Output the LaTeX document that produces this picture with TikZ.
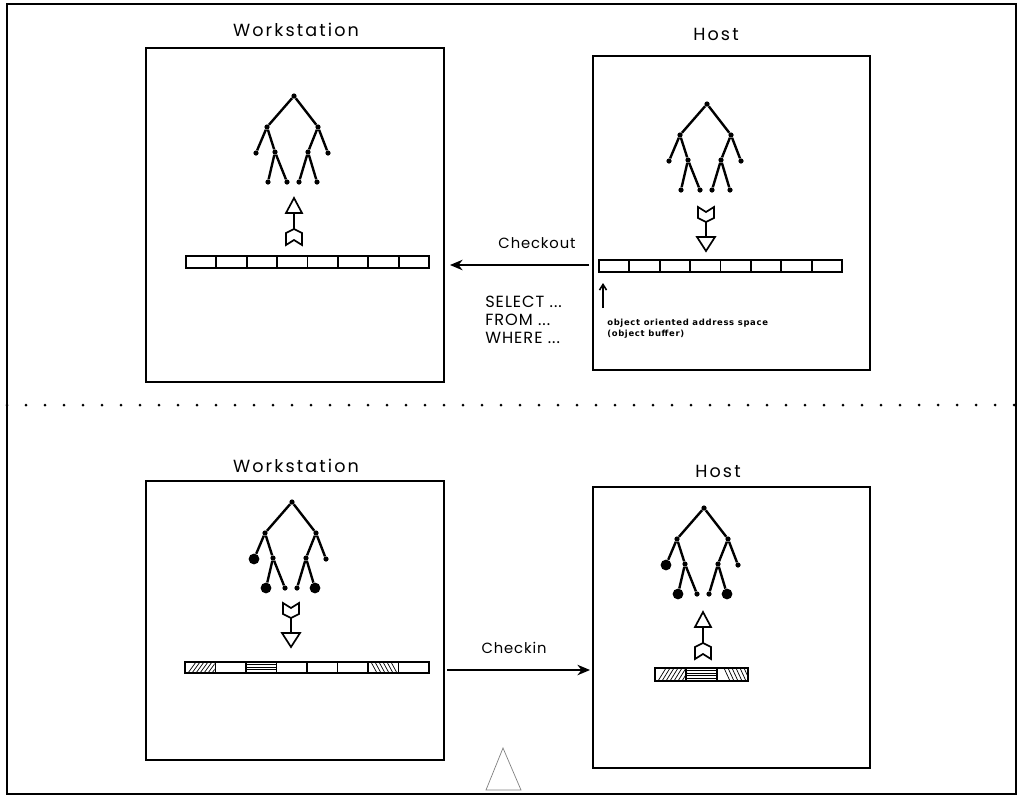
\documentclass[tikz,border=0pt]{standalone}
\usepackage{fontspec}
\setmainfont{Poppins}
\newfontfamily\tfont[LetterSpace=12]{Poppins}
\newfontfamily\lfont[LetterSpace=6]{Poppins}
\newfontfamily\sfont[LetterSpace=8]{DejaVu Sans}
\usetikzlibrary{arrows.meta}
\tikzset{
  frame/.style={draw, line width=1.2pt},
  panel/.style={draw, line width=1.3pt},
  edge/.style={line width=1.7pt},
  sdot/.style={circle, fill, inner sep=0pt, minimum size=0.13cm},
  bdot/.style={circle, fill, inner sep=0pt, minimum size=0.27cm},
  title/.style={font=\tfont\fontsize{12.5}{14}\selectfont},
  lab/.style={font=\lfont\fontsize{10.5}{12}\selectfont},
  sql/.style={font=\lfont\fontsize{11.5}{13}\selectfont, align=left, anchor=west, inner sep=0pt},
  tiny/.style={font=\sfont\bfseries\fontsize{6}{7}\selectfont, align=left, anchor=west, inner sep=0pt},
  buf/.style={line width=1.3pt},
  hatch/.style={line width=0.5pt},
  fletch/.style={line width=1.2pt, fill=white},
  bigarrow/.style={line width=0.9pt, -{Stealth[length=9pt, width=7.5pt]}},
}
\newcommand\drawtree[5]{% prefix, x, y, small style, big style
  \begin{scope}[shift={(#2,#3)}, name prefix=#1-]
    \node[#4] (r) at (0,0) {};
    \node[#4] (l) at (-27,31) {};
    \node[#4] (rt) at (24,31) {};
    \node[#5] (ll) at (-38,57) {};
    \node[#4] (li) at (-19,56) {};
    \node[#4] (ri) at (14,56) {};
    \node[#4] (rr) at (34,57) {};
    \node[#5] (a) at (-26,86) {};
    \node[#4] (b) at (-7,86) {};
    \node[#4] (c) at (5,86) {};
    \node[#5] (d) at (23,86) {};
    \draw[edge] (r) -- (l); \draw[edge] (r) -- (rt);
    \draw[edge] (l) -- (ll); \draw[edge] (l) -- (li);
    \draw[edge] (rt) -- (ri); \draw[edge] (rt) -- (rr);
    \draw[edge] (li) -- (a); \draw[edge] (li) -- (b);
    \draw[edge] (ri) -- (c); \draw[edge] (ri) -- (d);
  \end{scope}}
% upward fletched arrow: #1 cx, #2 tip y
\newcommand\fletchup[2]{%
  \draw[line width=1.2pt] (#1,#2+15) -- (#1,#2+31);
  \draw[fletch] (#1,#2) -- (#1+8,#2+15) -- (#1-8,#2+15) -- cycle;
  \draw[fletch] (#1,#2+31) -- (#1+8,#2+35) -- (#1+8,#2+47) -- (#1,#2+42) -- (#1-8,#2+47) -- (#1-8,#2+35) -- cycle;}
% downward fletched arrow: #1 cx, #2 tail top y
\newcommand\fletchdown[2]{%
  \draw[line width=1.2pt] (#1,#2+15) -- (#1,#2+30);
  \draw[fletch] (#1-8,#2) -- (#1,#2+5) -- (#1+8,#2) -- (#1+8,#2+11) -- (#1,#2+15) -- (#1-8,#2+11) -- cycle;
  \draw[fletch] (#1-9,#2+30) -- (#1+9,#2+30) -- (#1,#2+44) -- cycle;}
% buffer of n cells: #1 left, #2 top, #3 right, #4 bottom, #5 cells
\newcommand\buffer[5]{%
  \draw[buf] (#1,#2) rectangle (#3,#4);
  \foreach \i in {1,...,\numexpr#5-1\relax}{
    \draw[buf] ({#1+(#3-#1)*\i/#5},#2) -- ({#1+(#3-#1)*\i/#5},#4);}}
\begin{document}
\begin{tikzpicture}[x=0.025cm, y=-0.025cm]
\useasboundingbox (0,0) rectangle (1020,798);
\fill[white] (0,0) rectangle (1020,798);
% outer frame
\draw[frame] (7,4) rectangle (1016,794);
% dotted separator
\foreach \k in {0,...,53} { \fill ({7+19*\k},405) circle (1.5); }

% ---------- top half ----------
\node[title] (tw) at (296,30) {Workstation};
\node[title] (th) at (716,34) {Host};
\draw[panel] (146,48) rectangle (444,382);
\draw[panel] (593,56) rectangle (870,370);
\drawtree{tl}{294}{96}{sdot}{sdot}
\drawtree{tr}{707}{104}{sdot}{sdot}
\fletchup{294}{198}
\fletchdown{706}{207}
\buffer{186}{256}{429}{268}{8}
\buffer{599}{260}{842}{272}{8}
\coordinate (co-s) at (589,265);
\coordinate (co-e) at (450,265);
\draw[bigarrow] (co-s) -- (co-e);
\node[lab] (colab) at (537,243) {Checkout};
\node[sql] (sel) at (485,302) {SELECT ...};
\node[sql] (frm) at (485,320) {FROM ...};
\node[sql] (whr) at (485,338) {WHERE ...};
\coordinate (ua-s) at (603,308);
\coordinate (ua-e) at (603,283);
\draw[line width=1.1pt, -{Straight Barb[length=4pt, width=5pt]}] (ua-s) -- (ua-e);
\node[tiny] (oo1) at (607,323) {object oriented address space};
\node[tiny] (oo2) at (607,334) {(object buffer)};

% ---------- bottom half ----------
\node[title] (bw) at (296,466) {Workstation};
\node[title] (bh) at (718,471) {Host};
\draw[panel] (146,481) rectangle (444,760);
\draw[panel] (593,487) rectangle (870,768);
\drawtree{bl}{292}{502}{sdot}{bdot}
\drawtree{br}{704}{508}{sdot}{bdot}
\fletchdown{291}{603}
\fletchup{703}{612}
% left buffer with hatching
\begin{scope}
  \clip (185,662) rectangle (214.5,673);
  \foreach \k in {0,...,7} { \draw[hatch] ({188+4*\k},673) -- ({196+4*\k},662); }
\end{scope}
\foreach \yy in {664.5,667,669.5,672} { \draw[hatch] (246,\yy) -- (277,\yy); }
\begin{scope}
  \clip (368,662) rectangle (397,673);
  \foreach \k in {0,...,5} { \draw[hatch] ({371+4*\k},662) -- ({377+4*\k},673); }
\end{scope}
\buffer{185}{662}{429}{673}{8}
% right buffer
\begin{scope}
  \clip (655,668) rectangle (687,681);
  \foreach \k in {0,...,6} { \draw[hatch] ({658+4*\k},681) -- ({666+4*\k},668); }
\end{scope}
\foreach \yy in {670.5,673,675.5,678} { \draw[hatch] (687,\yy) -- (716,\yy); }
\begin{scope}
  \clip (716,668) rectangle (748,681);
  \foreach \k in {0,...,5} { \draw[hatch] ({724+4*\k},668) -- ({730+4*\k},681); }
\end{scope}
\buffer{655}{668}{748}{681}{3}
\coordinate (ci-s) at (447,670);
\coordinate (ci-e) at (590,670);
\draw[bigarrow] (ci-s) -- (ci-e);
\node[lab] (cilab) at (514,648) {Checkin};
% delta triangle
\draw[gray, line width=0.5pt] (503,748) -- (521,790) -- (486,790) -- cycle;
\end{tikzpicture}
\end{document}
